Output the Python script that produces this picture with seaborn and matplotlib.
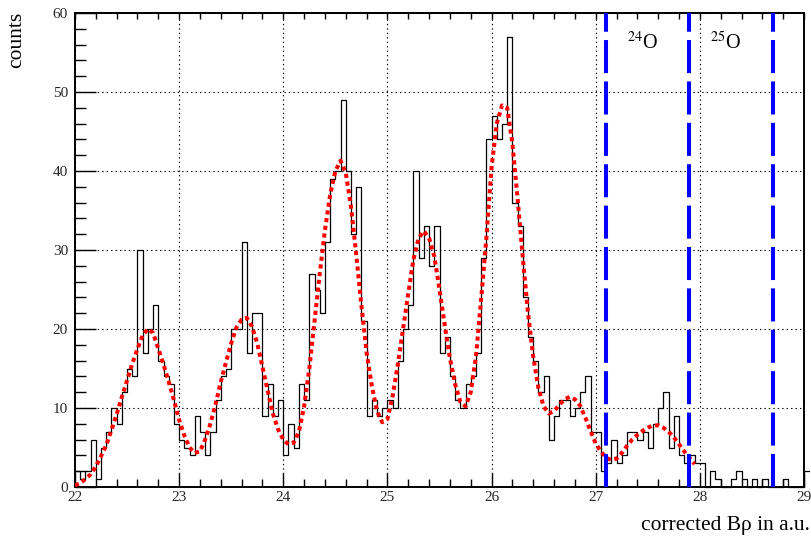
import numpy as np
import pandas as pd
import matplotlib
matplotlib.use("Agg")
import matplotlib.pyplot as plt
import seaborn as sns
from matplotlib.ticker import MultipleLocator

# ---------------- data ----------------
bin_start = 22.0
bin_width = 0.05
counts = [
    2, 1, 2, 6, 1, 5, 7, 10, 8, 12, 15, 14, 30, 17, 20, 23, 16, 14, 13, 8,      # 22.00-22.95
    6, 5, 4, 9, 7, 4, 7, 11, 14, 15, 20, 20, 31, 17, 22, 22, 9, 13, 9, 11,      # 23.00-23.95
    4, 8, 5, 13, 11, 27, 25, 22, 31, 39, 40, 49, 40, 32, 38, 21, 9, 11, 9, 10,  # 24.00-24.95
    11, 10, 16, 20, 23, 40, 29, 33, 28, 33, 17, 19, 14, 11, 10, 13, 14, 17, 29, 44,  # 25.00-25.95
    47, 44, 46, 57, 36, 33, 24, 19, 16, 12, 14, 6, 9, 11, 11, 9, 10, 12, 14, 7,  # 26.00-26.95
    7, 2, 3, 6, 3, 4, 7, 7, 6, 7, 5, 8, 10, 12, 5, 9, 4, 3, 4, 3,               # 27.00-27.95
    3, 0, 2, 1, 0, 0, 1, 2, 1, 0, 1, 0, 1, 0, 0, 0, 1, 0, 0, 0,                 # 28.00-28.95
    2,                                                                           # 29.00
]

fit_x = [22.00, 22.05, 22.10, 22.15, 22.20, 22.25, 22.30, 22.35, 22.40, 22.45,
         22.50, 22.55, 22.60, 22.65, 22.70, 22.75, 22.80, 22.85, 22.90, 22.95,
         23.00, 23.05, 23.10, 23.15, 23.20, 23.25, 23.30, 23.35, 23.40, 23.45,
         23.50, 23.55, 23.60, 23.65, 23.70, 23.75, 23.80, 23.85, 23.90, 23.95,
         24.00, 24.05, 24.10, 24.15, 24.20, 24.25, 24.30, 24.35, 24.40, 24.45,
         24.50, 24.55, 24.60, 24.65, 24.70, 24.75, 24.80, 24.85, 24.90, 24.95,
         25.00, 25.05, 25.10, 25.15, 25.20, 25.25, 25.30, 25.35, 25.40, 25.45,
         25.50, 25.55, 25.60, 25.65, 25.70, 25.75, 25.80, 25.85, 25.90, 25.95,
         26.00, 26.05, 26.10, 26.15, 26.20, 26.25, 26.30, 26.35, 26.40, 26.45,
         26.50, 26.55, 26.60, 26.65, 26.70, 26.75, 26.80, 26.85, 26.90, 26.95,
         27.00, 27.05, 27.10, 27.15, 27.20, 27.25, 27.30, 27.35, 27.40, 27.45,
         27.50, 27.55, 27.60, 27.65, 27.70, 27.75, 27.80, 27.85, 27.90, 27.95]
fit_y = [0.2, 0.5, 1.0, 1.6, 2.6, 3.9, 5.3, 7.2, 9.2, 11.4,
         13.5, 15.6, 17.5, 19.2, 20.0, 19.5, 17.5, 15.5, 13.3, 11.0,
         8.5, 6.5, 5.0, 4.3, 4.5, 6.0, 8.0, 10.5, 13.3, 15.8,
         18.2, 20.2, 21.2, 21.4, 20.3, 18.2, 15.2, 12.2, 9.3, 7.3,
         6.0, 5.4, 5.6, 7.0, 10.2, 15.0, 21.0, 27.0, 32.5, 37.0,
         40.0, 41.3, 39.8, 35.5, 29.5, 23.0, 17.0, 12.8, 9.6, 8.2,
         8.6, 11.5, 15.5, 20.0, 24.5, 28.8, 31.5, 32.4, 31.5, 29.2,
         25.0, 20.5, 16.3, 13.0, 10.8, 10.2, 12.0, 16.5, 23.8, 31.5,
         40.5, 46.0, 48.3, 48.0, 43.5, 36.5, 29.0, 22.0, 16.5, 12.5,
         10.2, 9.3, 9.6, 10.4, 11.1, 11.4, 11.1, 10.3, 8.8, 7.1,
         5.5, 4.5, 3.7, 3.4, 3.6, 4.3, 5.2, 6.0, 6.6, 7.1,
         7.5, 7.8, 7.8, 7.5, 7.0, 6.3, 5.4, 4.5, 3.7, 2.9]

region_edges = [27.1, 27.9, 28.7]
region_labels = ["24", "25"]

x_range = (22, 29)
y_range = (0, 60)

# ---------------- style ----------------
sns.set_theme(style="white")
plt.rcParams["font.family"] = ["Liberation Serif", "DejaVu Serif"]
plt.rcParams["mathtext.fontset"] = "stix"
plt.rcParams["lines.scale_dashes"] = False

fig = plt.figure(figsize=(8.12, 5.38), dpi=100)
ax = fig.add_axes([75 / 812, 51 / 538, 729 / 812, 474 / 538])

# histogram
edges = bin_start + bin_width * np.arange(len(counts) + 1)
centers = edges[:-1] + bin_width / 2
hist_df = pd.DataFrame({"x": centers, "w": np.asarray(counts, dtype=float)})
sns.histplot(data=hist_df, x="x", weights="w", bins=[float(e) for e in edges],
             element="step", fill=False, color="black", linewidth=0.9, ax=ax)
for ln in ax.lines:
    ln.set_clip_on(False)
n_hist_lines = len(ax.lines)

# fit curve
fit_df = pd.DataFrame({"x": fit_x, "y": fit_y})
sns.lineplot(data=fit_df, x="x", y="y", color="red", linewidth=2.9, ax=ax, sort=False)
fit_line = ax.lines[n_hist_lines]
fit_line.set_color((1, 0, 0))
fit_line.set_linestyle((0, (3.0, 2.6)))
fit_line.set_dash_capstyle("butt")
fit_line.set_zorder(4)

# region boundaries
for xe in region_edges:
    ax.axvline(xe, color=(0, 0, 1), linewidth=2.9, linestyle=(0, (23.8, 6.0)),
               zorder=5)

# region labels
for i, lab in enumerate(region_labels):
    xm = 0.5 * (region_edges[i] + region_edges[i + 1]) - 0.05
    ax.text(xm, 56.2, r"$^{%s}$O" % lab, fontsize=14.5, ha="center", va="center",
            color="black")

ax.set_xlim(*x_range)
ax.set_ylim(*y_range)
ax.xaxis.set_major_locator(MultipleLocator(1))
ax.xaxis.set_minor_locator(MultipleLocator(0.2))
ax.yaxis.set_major_locator(MultipleLocator(10))
ax.yaxis.set_minor_locator(MultipleLocator(2))

ax.grid(True, which="major", color="black", linestyle=(0, (1.0, 2.2)), linewidth=0.8)
ax.set_axisbelow(True)

for sp in ax.spines.values():
    sp.set_color("black")
    sp.set_linewidth(1.4)
    sp.set_visible(True)

ax.tick_params(axis="x", which="major", direction="in", length=10, width=1.0,
               color="black", labelsize=11, pad=3, bottom=True, top=False)
ax.tick_params(axis="x", which="minor", direction="in", length=5.5, width=1.0,
               color="black", bottom=True, top=False)
ax.tick_params(axis="y", which="major", direction="in", length=15, width=1.0,
               color="black", labelsize=11, pad=5, left=True, right=False)
ax.tick_params(axis="y", which="minor", direction="in", length=8, width=1.0,
               color="black", left=True, right=False)

secx = ax.secondary_xaxis("top")
secx.xaxis.set_major_locator(MultipleLocator(1))
secx.xaxis.set_minor_locator(MultipleLocator(0.2))
secx.tick_params(which="both", direction="in", length=4, width=1.0, color="black",
                 labeltop=False)
secx.spines["top"].set_linewidth(1.4)

ax.set_xlabel("")
ax.set_ylabel("")
fig.text(810 / 812, (538 - 530) / 538, "corrected Bρ in a.u.", ha="right",
         va="baseline", fontsize=15.5, color="black")
fig.text(17 / 812, (538 - 12) / 538, "counts", rotation=90, ha="center",
         va="top", fontsize=15.5, color="black")

fig.savefig("out.png", dpi=100)
